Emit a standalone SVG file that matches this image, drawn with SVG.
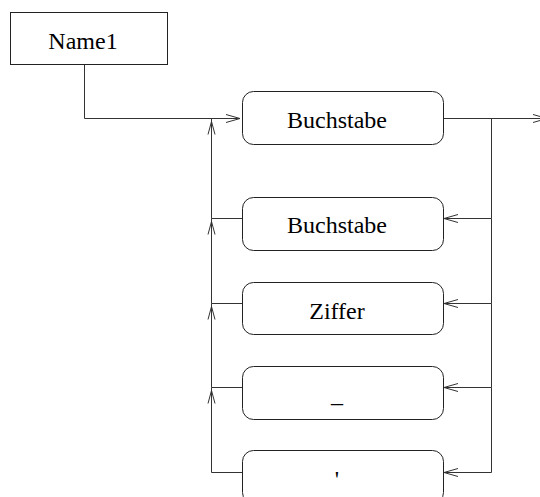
<svg xmlns="http://www.w3.org/2000/svg" width="540" height="497" viewBox="0 0 540 497">
<style>
.box{fill:#fff;stroke:#222;stroke-width:1}
.lbl{font-family:"Liberation Serif","Times New Roman",serif;font-size:24px;fill:#000;text-anchor:middle}
.con{fill:none;stroke:#333;stroke-width:1}
</style>
<defs>
<marker id="arr" markerUnits="userSpaceOnUse" markerWidth="20" markerHeight="12" refX="14" refY="4" orient="auto" overflow="visible">
<path d="M0,0 L14,4 L0,8" fill="none" stroke="#333" stroke-width="1"/>
</marker>
<marker id="arrUp" markerUnits="userSpaceOnUse" markerWidth="20" markerHeight="12" refX="16" refY="3.5" orient="auto" overflow="visible">
<path d="M0,0 L13,3.5 L0,7" fill="none" stroke="#333" stroke-width="1"/>
</marker>
</defs>
<g id="connectors">
<path class="con" d="M84.5,64 V118.5 H240" marker-end="url(#arr)"/>
<path class="con" d="M443.5,118.5 H547" marker-end="url(#arr)"/>
<path class="con" d="M491.5,118.5 V218.5 H444" marker-end="url(#arr)"/>
<path class="con" d="M491.5,218.5 V303.5 H444" marker-end="url(#arr)"/>
<path class="con" d="M491.5,303.5 V387.5 H444" marker-end="url(#arr)"/>
<path class="con" d="M491.5,387.5 V472.5 H444" marker-end="url(#arr)"/>
<path class="con" d="M242,472.5 H211.5 V387.5" marker-end="url(#arrUp)"/>
<path class="con" d="M242,387.5 H211.5 V303.5" marker-end="url(#arrUp)"/>
<path class="con" d="M242,303.5 H211.5 V218.5" marker-end="url(#arrUp)"/>
<path class="con" d="M242,218.5 H211.5 V118.5" marker-end="url(#arrUp)"/>
</g>
<g id="name1">
<rect class="box" x="10.5" y="12.5" width="157" height="52"/>
<text class="lbl" x="83" y="49">Name1</text>
</g>
<g id="buchstabe1">
<rect class="box" x="242.5" y="91.5" width="201" height="53" rx="11"/>
<text class="lbl" x="337" y="128">Buchstabe</text>
</g>
<g id="buchstabe2">
<rect class="box" x="242.5" y="197.5" width="201" height="53" rx="11"/>
<text class="lbl" x="337" y="233">Buchstabe</text>
</g>
<g id="ziffer">
<rect class="box" x="242.5" y="282.5" width="201" height="52" rx="11"/>
<text class="lbl" x="337" y="319">Ziffer</text>
</g>
<g id="underscore">
<rect class="box" x="242.5" y="366.5" width="201" height="53" rx="11"/>
<text class="lbl" x="337" y="402">_</text>
</g>
<g id="apostrophe">
<rect class="box" x="242.5" y="450.5" width="201" height="53" rx="11"/>
<text class="lbl" x="337" y="487">'</text>
</g>
</svg>
